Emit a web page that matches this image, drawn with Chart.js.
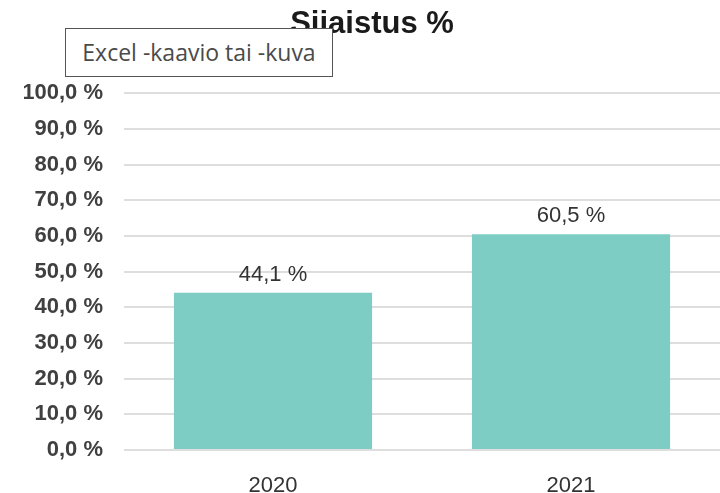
<!DOCTYPE html>
<html lang="fi">
<head>
  <meta charset="UTF-8">
  <title>Sijaistus %</title>
  <script src="https://cdn.jsdelivr.net/npm/chart.js"></script>
  <style>
    html, body { margin: 0; padding: 0; background: #fff; overflow: hidden; }
    #wrap { position: relative; width: 720px; height: 493px; }
    #kaavio { display: block; }
    .vihje {
      position: absolute; left: 65px; top: 28px; width: 266px; height: 47px;
      border: 1px solid #555; background: #fff; box-sizing: content-box;
      font-family: "Open Sans", sans-serif; font-size: 23px; color: #4a4a4a;
      line-height: 47px; text-align: center;
    }
  </style>
</head>
<body>
  <div id="wrap">
    <canvas id="kaavio" width="720" height="493"></canvas>
    <div class="vihje">Excel -kaavio tai -kuva</div>
  </div>

  <script>
  const vuodet = ['2020', '2021'];
  const sijaistus = [44.1, 60.5];
  const otsikko = 'Sijaistus %';

  const muotoile = v => v.toFixed(1).replace('.', ',') + ' %';

  // arvot pylväiden päälle
  const arvoPlugin = {
    id: 'arvot',
    afterDatasetsDraw(chart) {
      const ctx = chart.ctx;
      const meta = chart.getDatasetMeta(0);
      ctx.save();
      ctx.font = '22px "Liberation Sans", Arial, sans-serif';
      ctx.fillStyle = '#333333';
      ctx.textAlign = 'center';
      ctx.textBaseline = 'alphabetic';
      meta.data.forEach((bar, i) => {
        ctx.fillText(muotoile(sijaistus[i]), bar.x, bar.y - 12);
      });
      ctx.restore();
    }
  };

  new Chart(document.getElementById('kaavio'), {
    type: 'bar',
    data: {
      labels: vuodet,
      datasets: [{
        data: sijaistus,
        backgroundColor: '#7ecdc5',
        categoryPercentage: 1,
        barPercentage: 0.665
      }]
    },
    options: {
      responsive: false,
      animation: false,
      layout: { padding: { left: 24, right: 0, top: 0, bottom: 0 } },
      plugins: {
        legend: { display: false },
        tooltip: { enabled: false },
        title: {
          display: true,
          text: otsikko,
          color: '#1a1a1a',
          font: { family: '"Liberation Sans", Arial, sans-serif', size: 31, weight: 'bold' },
          padding: { top: 6, bottom: 50 }
        }
      },
      scales: {
        x: {
          grid: { display: false },
          border: { display: false },
          ticks: {
            color: '#333333',
            padding: 15,
            font: { family: '"Liberation Sans", Arial, sans-serif', size: 22 }
          },
          afterFit(scale) { scale.height = 43; }
        },
        y: {
          min: 0,
          max: 100,
          border: { display: false },
          grid: { color: '#dedede', lineWidth: 2, drawTicks: false },
          ticks: {
            stepSize: 10,
            color: '#404040',
            padding: 21,
            font: { family: '"Liberation Sans", Arial, sans-serif', size: 22, weight: 'bold' },
            callback: v => muotoile(v)
          },
          afterFit(scale) { scale.width = 100; }
        }
      }
    },
    plugins: [arvoPlugin]
  });
  </script>
</body>
</html>
